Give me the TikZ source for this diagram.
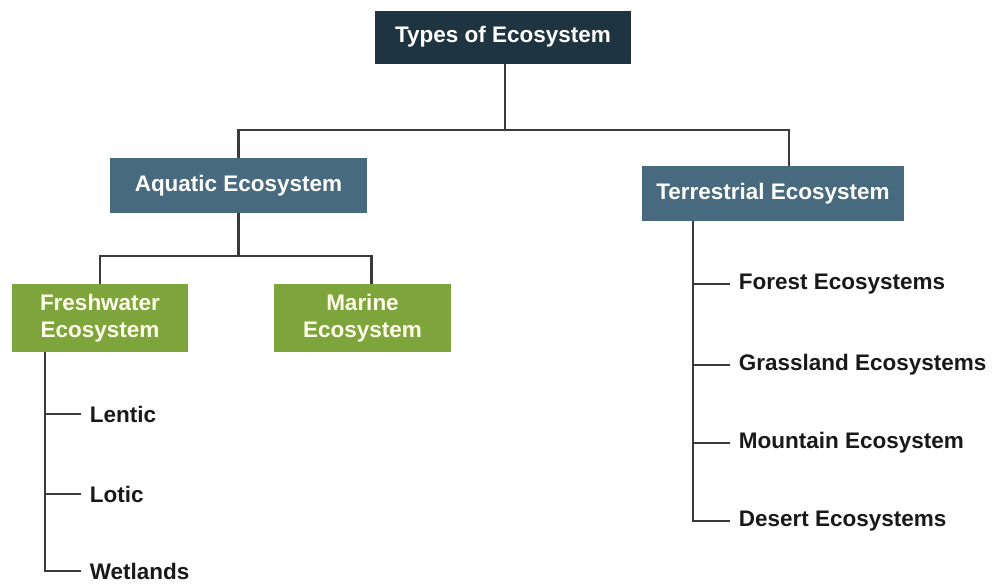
\documentclass[tikz,border=0pt]{standalone}
\usepackage{fontspec}
\setmainfont{Liberation Sans}
\definecolor{navybox}{HTML}{1F3441}
\definecolor{tealbox}{HTML}{476A7E}
\definecolor{greenbox}{HTML}{7DA53B}
\definecolor{wirecol}{HTML}{3A3A3A}
\tikzset{
	headbox/.style={shape=rectangle, fill=navybox, text=white, font=\fontsize{12.8}{15}\selectfont\bfseries, align=center},
	typebox/.style={shape=rectangle, fill=tealbox, text=white, font=\fontsize{12.8}{15}\selectfont\bfseries, align=center},
	kindbox/.style={shape=rectangle, fill=greenbox, text=white!92!yellow, font=\fontsize{12.8}{15.5}\selectfont\bfseries, align=center},
	leaf/.style={anchor=west, inner sep=0.17cm, text=black!90, font=\fontsize{12.8}{15}\selectfont\bfseries},
	wire/.style={draw=wirecol, line width=1.4pt}
}
\begin{document}
\begin{tikzpicture}[x=0.02cm, y=-0.02cm]
	\useasboundingbox (0,0) rectangle (993,583);
	% Paths, nodes and wires:
	\node[headbox, minimum width=5.14cm, minimum height=1.06cm] (eco) at (503, 37){Types of Ecosystem};
	\node[typebox, minimum width=5.14cm, minimum height=1.1cm] (aquatic) at (238.5, 185.5){Aquatic Ecosystem};
	\node[typebox, minimum width=5.24cm, minimum height=1.1cm] (terr) at (773, 193.5){Terrestrial Ecosystem};
	\node[kindbox, minimum width=3.52cm, minimum height=1.36cm] (fresh) at (100, 318){Freshwater\\Ecosystem};
	\node[kindbox, minimum width=3.54cm, minimum height=1.36cm] (marine) at (362.5, 318){Marine\\Ecosystem};
	\coordinate (topsplit) at (505, 130);
	\coordinate (aqsplit) at (238.5, 256);
	\draw[wire] (eco.south -| topsplit) -- (topsplit);
	\draw[wire] (aquatic.north) |- (topsplit) -| ([xshift=0.32cm]terr.north);
	\draw[wire] (aquatic.south) -- (aqsplit);
	\draw[wire] (fresh.north) |- (aqsplit) -| ([xshift=0.18cm]marine.north);
	% freshwater kinds
	\node[leaf] (lentic) at (81, 414){Lentic};
	\node[leaf] (lotic) at (81, 494){Lotic};
	\node[leaf, inner ysep=0.05cm] (wetlands) at (81, 571){Wetlands};
	\coordinate (freshspine) at (45, 352);
	\draw[wire] (freshspine) |- (wetlands.west);
	\draw[wire] (freshspine |- lentic.west) -- (lentic.west);
	\draw[wire] (freshspine |- lotic.west) -- (lotic.west);
	% terrestrial kinds
	\node[leaf] (forest) at (730, 284){Forest Ecosystems};
	\node[leaf] (grass) at (730, 365){Grassland Ecosystems};
	\node[leaf] (mountain) at (730, 443){Mountain Ecosystem};
	\node[leaf] (desert) at (730, 521){Desert Ecosystems};
	\coordinate (terrspine) at (693, 221);
	\draw[wire] (terrspine) |- (desert.west);
	\draw[wire] (terrspine |- forest.west) -- (forest.west);
	\draw[wire] (terrspine |- grass.west) -- (grass.west);
	\draw[wire] (terrspine |- mountain.west) -- (mountain.west);
\end{tikzpicture}
\end{document}
